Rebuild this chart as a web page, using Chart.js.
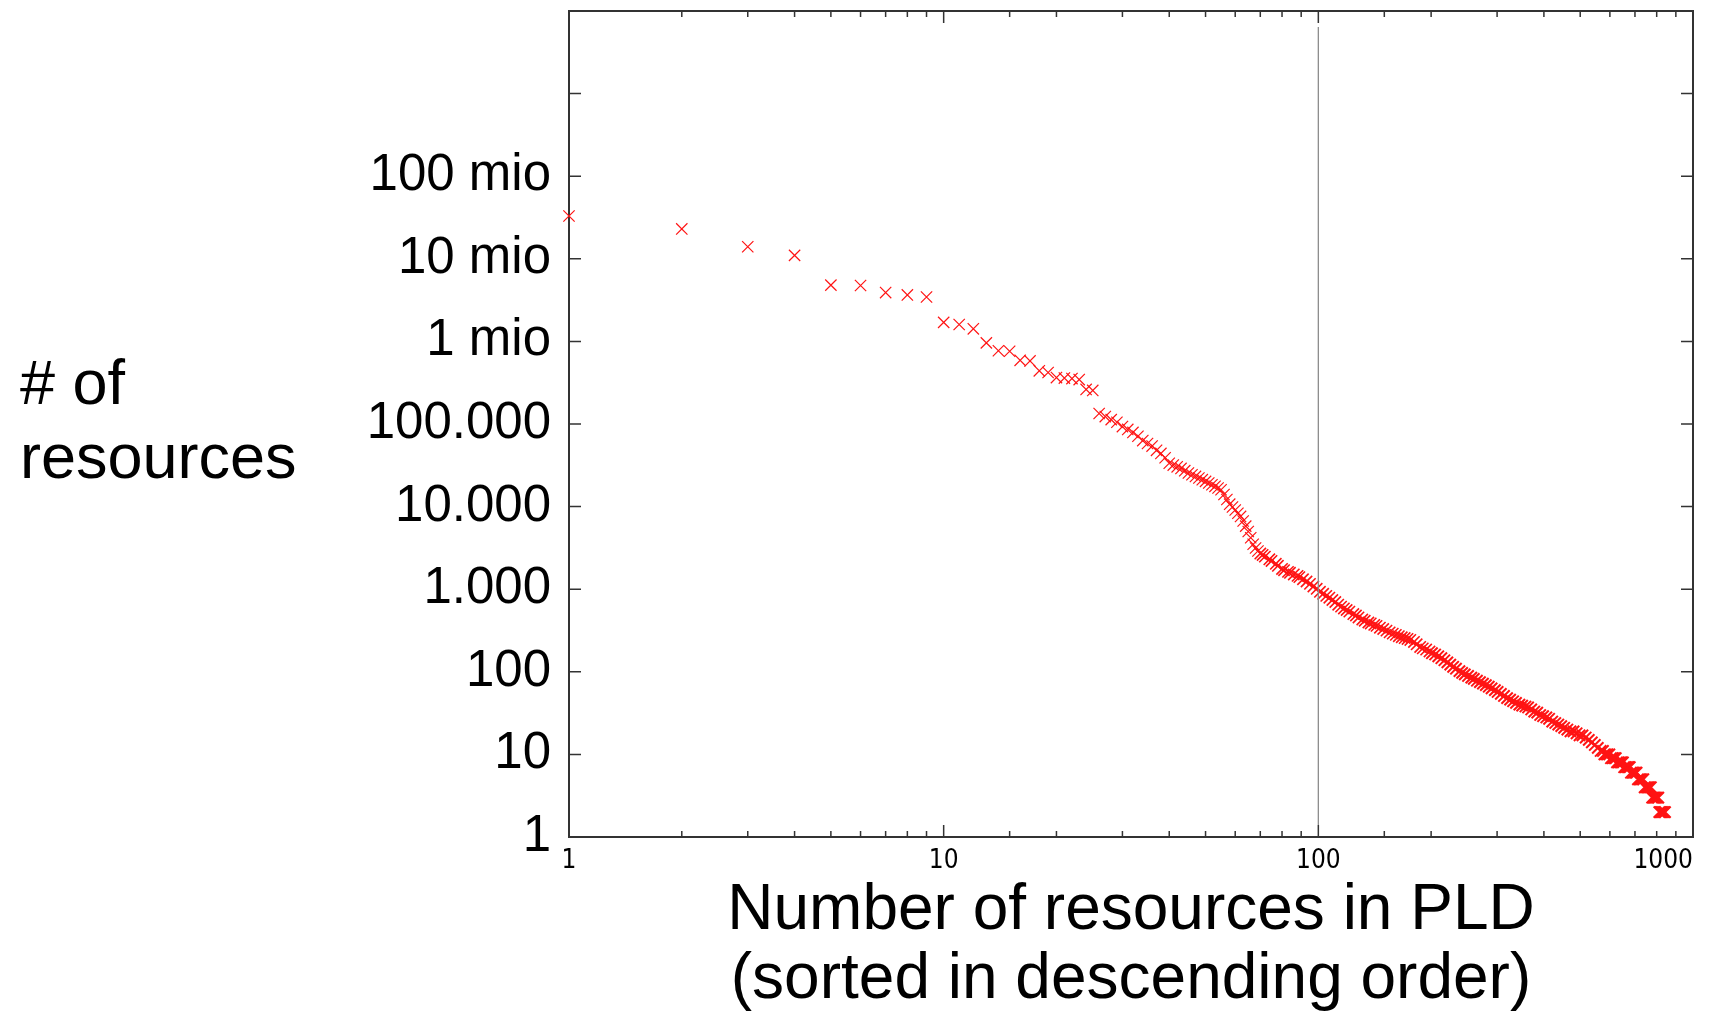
<!DOCTYPE html>
<html>
<head>
    <title>Resources per PLD</title>
    <script src="https://cdn.jsdelivr.net/npm/chart.js@4.4.0/dist/chart.umd.js"></script>
    <style>
        html, body { margin: 0; padding: 0; background: #fff; }
        #wrap { width: 1736px; height: 1017px; }
    </style>
</head>
<body>
    <div id="wrap"><canvas id="chart" width="1736" height="1017"></canvas></div>

    <script>
        // rank of the PLD (x) and number of resources it holds (y)
        const ranks = [
            1, 2, 3, 4, 5, 6, 7, 8, 9, 10, 11, 12, 13, 14, 15, 16, 17, 18, 19, 20,
            21, 22, 23, 24, 25, 26, 27, 28, 29, 30, 31, 32, 33, 34, 35, 36, 37, 38, 39, 40,
            41, 42, 43, 44, 45, 46, 47, 48, 49, 50, 51, 52, 53, 54, 55, 56, 57, 58, 59, 60,
            61, 62, 63, 64, 65, 66, 67, 68, 69, 70, 71, 72, 74, 75, 77, 78, 80, 81, 83, 84,
            86, 88, 89, 91, 93, 95, 97, 99, 101,
            103, 105, 107, 109, 111, 113, 115, 117, 119, 121, 124, 126, 128, 131, 133, 136, 138, 141, 143, 146,
            149, 152, 155, 158, 161, 164, 167, 170, 173, 176, 180, 183, 187, 190, 194, 198, 201,
            205, 209, 213, 217, 221, 225, 229, 233, 238, 242, 246, 251, 256, 260, 265, 270, 275, 280, 285, 290, 296, 301,
            307, 313, 319, 325, 331, 337, 344, 350, 357, 363, 370, 377, 384, 391, 398, 406, 413, 421, 429, 437,
            445, 453, 462, 471, 480, 489, 498, 507, 517, 527, 537, 547, 557, 567, 575,
            580, 586, 592, 598, 604, 610, 616, 622, 627, 633, 639, 645, 650,
            655, 661, 667, 673, 678, 683, 689, 695, 701, 707, 713, 719, 725, 731, 737,
            743, 749, 755, 761, 767, 772, 778, 784, 790, 796, 802, 808,
            813, 819, 825, 831, 837, 842
        ];
        const counts = [
            33000000, 23000000, 14000000, 11000000, 4800000, 4750000, 3900000, 3650000, 3450000, 1700000,
            1600000, 1420000, 960000, 770000, 760000, 590000, 580000, 440000, 420000, 365000,
            360000, 355000, 345000, 262000, 255000, 134000, 123000, 113000, 105000, 93000,
            86000, 79000, 71000, 63000, 58000, 54000, 48000, 44000, 39000, 33500,
            31800, 30300, 29000, 27200, 25500, 24300, 23200, 22200, 21200, 20200,
            19300, 18400, 17600, 16800, 16000, 14000, 12200, 10700, 9900, 9100,
            8300, 7600, 6700, 5800, 5000, 4200, 3500, 3150, 2900, 2700,
            2600, 2480, 2300, 2200, 2030, 1920, 1760, 1700, 1620, 1580,
            1510, 1450, 1400, 1320, 1240, 1160, 1080, 1010, 930,
            880, 830, 790, 740, 700, 650, 615, 585, 560, 535, 500, 480, 455, 430, 415, 395, 385, 370, 360, 342,
            330, 315, 300, 290, 280, 270, 262, 256, 250, 243, 230, 215, 200, 192, 186, 176, 168,
            162, 154, 146, 138, 130, 122, 115, 109, 102, 97, 93, 89, 85, 82, 78, 75, 72, 69, 66, 63, 60, 57,
            54, 51, 48, 46, 44, 42, 40, 39, 38, 37, 35, 33, 32, 30, 29, 28, 27, 25, 24, 23,
            22, 21, 20, 19, 19, 18, 17, 17, 16, 15, 14, 13, 12, 11, 11,
            10, 10, 10, 10, 9, 9, 9, 9, 8, 8, 8, 8, 8,
            7, 7, 7, 7, 7, 6, 6, 6, 6, 6, 5, 5, 5, 5, 5,
            4, 4, 4, 4, 4, 4, 3, 3, 3, 3, 3, 3,
            2, 2, 2, 2, 2, 2
        ];

        // thin vertical marker at rank 100
        const markerX = [100, 100];
        const markerY = [1.4, 6.4e9];

        const xTickValues = [1, 10, 100, 1000];
        const yTickLabels = ['1', '10', '100', '1.000', '10.000', '100.000', '1 mio', '10 mio', '100 mio'];
        const yTitleLines = ['# of', 'resources'];
        const xTitleLines = ['Number of resources in PLD', '(sorted in descending order)'];

        const SANS = '"Liberation Sans", Arial, Helvetica, sans-serif';
        const NARROW = '"Liberation Sans Narrow", "Arial Narrow", "DejaVu Sans Condensed", "Liberation Sans", sans-serif';

        function isDecade(v) {
            const e = Math.round(Math.log10(v));
            return Math.abs(Math.log10(v) - e) < 1e-9;
        }

        // gnuplot-like box with inward tick marks on all four sides, plus the horizontal y title
        const frameTicks = {
            id: 'frameTicks',
            beforeDatasetsDraw(chart) {
                const { ctx, chartArea: a, scales: { x, y } } = chart;
                ctx.save();
                ctx.strokeStyle = '#333';
                ctx.lineWidth = 1.5;
                ctx.beginPath();
                x.ticks.forEach(t => {
                    const px = x.getPixelForValue(t.value);
                    const len = isDecade(t.value) ? 12 : 6;
                    ctx.moveTo(px, a.bottom); ctx.lineTo(px, a.bottom - len);
                    ctx.moveTo(px, a.top); ctx.lineTo(px, a.top + len);
                });
                y.ticks.forEach(t => {
                    if (!isDecade(t.value)) return;
                    const py = y.getPixelForValue(t.value);
                    ctx.moveTo(a.left, py); ctx.lineTo(a.left + 12, py);
                    ctx.moveTo(a.right, py); ctx.lineTo(a.right - 12, py);
                });
                ctx.stroke();
                ctx.lineWidth = 2;
                ctx.strokeRect(a.left, a.top, a.right - a.left, a.bottom - a.top);
                ctx.restore();
            },
            afterDraw(chart) {
                const ctx = chart.ctx;
                ctx.save();
                ctx.fillStyle = '#000';
                ctx.font = '63px ' + SANS;
                ctx.textAlign = 'left';
                ctx.textBaseline = 'alphabetic';
                ctx.fillText(yTitleLines[0], 20, 404);
                ctx.fillText(yTitleLines[1], 20, 478);
                ctx.restore();
            }
        };

        new Chart(document.getElementById('chart'), {
            type: 'scatter',
            data: {
                datasets: [
                    {
                        label: 'marker',
                        data: markerX.map((v, i) => ({ x: v, y: markerY[i] })),
                        showLine: true,
                        borderColor: '#8c8c8c',
                        borderWidth: 1.3,
                        pointRadius: 0
                    },
                    {
                        label: 'PLDs',
                        data: ranks.map((r, i) => ({ x: r, y: counts[i] })),
                        pointStyle: 'crossRot',
                        pointRadius: 8,
                        // the original plots every rank; heavier strokes stand in for the overlap where fewer were read
                        pointBorderWidth: c => {
                            const r = c.raw ? c.raw.x : 1;
                            return r < 70 ? 1.2 : (r < 200 ? 1.6 : 2.0);
                        },
                        pointBorderColor: 'rgb(255,20,20)',
                        pointBackgroundColor: 'rgb(255,20,20)',
                        clip: false
                    }
                ]
            },
            options: {
                responsive: false,
                animation: false,
                devicePixelRatio: 1,
                layout: { autoPadding: false, padding: { top: 11, right: 43, left: 0, bottom: 0 } },
                plugins: {
                    legend: { display: false },
                    tooltip: { enabled: false }
                },
                scales: {
                    x: {
                        type: 'logarithmic',
                        min: 1,
                        max: 1000,
                        grid: { display: false, drawTicks: false },
                        border: { display: false },
                        ticks: {
                            autoSkip: false,
                            maxRotation: 0,
                            padding: 9,
                            color: '#000',
                            font: { family: NARROW, size: 26 },
                            callback: v => {
                                if (!xTickValues.includes(v)) return '';
                                // last label sits flush with the right edge of the frame
                                return v === 1000 ? '1000\u2007\u2007\u2007\u2007' : String(v);
                            }
                        },
                        title: {
                            display: true,
                            text: xTitleLines,
                            color: '#000',
                            font: { family: SANS, size: 64, lineHeight: 1.08 },
                            padding: { top: 0, bottom: 2 }
                        },
                        afterFit: s => {
                            s.height = 180;
                            s.paddingLeft = 0;
                            s.paddingRight = 0;
                        }
                    },
                    y: {
                        type: 'logarithmic',
                        min: 1,
                        max: 1e10,
                        grid: { display: false, drawTicks: false },
                        border: { display: false },
                        ticks: {
                            autoSkip: false,
                            padding: 18,
                            color: '#000',
                            font: { family: SANS, size: 51 },
                            callback: v => {
                                if (!isDecade(v)) return '';
                                const e = Math.round(Math.log10(v));
                                return e < yTickLabels.length ? yTickLabels[e] : '';
                            }
                        },
                        afterFit: s => {
                            s.width = 569;
                            s.paddingTop = 0;
                            s.paddingBottom = 0;
                        }
                    }
                }
            },
            plugins: [frameTicks]
        });
    </script>
</body>
</html>
